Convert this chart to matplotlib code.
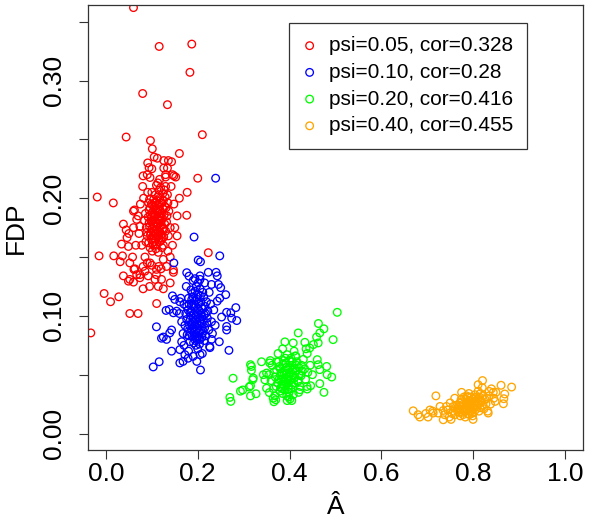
import numpy as np
import matplotlib.pyplot as plt

plt.rcParams['font.family'] = ['Liberation Sans', 'DejaVu Sans']

labels = ['psi=0.05, cor=0.328', 'psi=0.10, cor=0.28',
          'psi=0.20, cor=0.416', 'psi=0.40, cor=0.455']
colors = ['#FF0000', '#0000FF', '#00FF00', '#FFA500']

# (A_hat, FDP) pairs
red_pts = [
    (0.060, 0.362), (0.116, 0.329), (0.187, 0.331), (0.183, 0.307), (0.080, 0.289),
    (0.134, 0.2795), (0.044, 0.252), (0.210, 0.254), (0.097, 0.249), (0.101, 0.242),
    (0.105, 0.235), (0.112, 0.234), (0.160, 0.238), (0.091, 0.230), (0.126, 0.232),
    (0.136, 0.232), (0.143, 0.231), (0.094, 0.226), (0.126, 0.2256), (0.134, 0.2256),
    (0.081, 0.219), (0.096, 0.2176), (0.130, 0.220), (0.148, 0.219), (0.152, 0.218),
    (0.200, 0.217), (-0.019, 0.201), (0.016, 0.196), (0.177, 0.205), (0.176, 0.1855),
    (0.223, 0.1537), (-0.015, 0.151), (0.017, 0.151), (0.036, 0.151), (0.031, 0.146),
    (0.052, 0.145), (0.147, 0.139), (0.147, 0.137), (0.038, 0.134), (0.052, 0.131),
    (0.049, 0.1295), (0.060, 0.1287), (0.067, 0.135), (0.074, 0.1324), (-0.004, 0.119),
    (0.028, 0.1162), (0.010, 0.112), (0.052, 0.102), (0.070, 0.102), (0.1105, 0.1105),
    (0.081, 0.123), (0.125, 0.123), (0.092, 0.134), (0.107, 0.131), (-0.033, 0.0855),
    (0.038, 0.178), (0.044, 0.173), (0.046, 0.1665), (0.034, 0.161), (0.049, 0.159),
    (0.060, 0.189), (0.067, 0.182), (0.074, 0.176), (0.061, 0.1395), (0.074, 0.135),
    (0.081, 0.142), (0.096, 0.145), (0.110, 0.1395), (0.121, 0.131), (0.114, 0.125),
    (0.080, 0.210), (0.075, 0.195), (0.078, 0.160), (0.072, 0.170), (0.085, 0.150),
    (0.070, 0.185), (0.145, 0.160), (0.150, 0.175), (0.148, 0.195), (0.142, 0.210),
    (0.155, 0.185), (0.140, 0.150), (0.090, 0.145), (0.100, 0.143), (0.125, 0.148),
    (0.115, 0.142), (0.135, 0.155), (0.060, 0.175), (0.065, 0.160), (0.062, 0.190),
    (0.145, 0.220), (0.130, 0.218), (0.090, 0.220), (0.100, 0.225), (0.082, 0.200),
    (0.058, 0.150), (0.085, 0.138), (0.120, 0.140), (0.110, 0.135), (0.132, 0.142),
    (0.155, 0.168), (0.160, 0.200), (0.050, 0.170), (0.140, 0.128), (0.095, 0.125),
    (0.063, 0.140),
    (0.112, 0.182), (0.105, 0.176), (0.118, 0.190), (0.098, 0.171), (0.125, 0.198),
    (0.108, 0.165), (0.115, 0.172), (0.101, 0.188), (0.121, 0.181), (0.094, 0.179),
    (0.110, 0.194), (0.127, 0.186), (0.103, 0.160), (0.117, 0.163), (0.099, 0.195),
    (0.113, 0.201), (0.106, 0.184), (0.123, 0.174), (0.090, 0.168), (0.131, 0.192),
    (0.109, 0.157), (0.116, 0.207), (0.097, 0.186), (0.120, 0.169), (0.104, 0.199),
    (0.128, 0.178), (0.093, 0.162), (0.111, 0.189), (0.119, 0.196), (0.100, 0.174),
    (0.124, 0.204), (0.107, 0.170), (0.114, 0.178), (0.096, 0.192), (0.122, 0.158),
    (0.102, 0.181), (0.133, 0.185), (0.088, 0.175), (0.110, 0.211), (0.118, 0.176),
    (0.105, 0.192), (0.126, 0.167), (0.099, 0.165), (0.113, 0.168), (0.129, 0.201),
    (0.092, 0.184), (0.108, 0.203), (0.121, 0.187), (0.101, 0.155), (0.116, 0.184),
    (0.095, 0.199), (0.124, 0.191), (0.107, 0.180), (0.112, 0.173), (0.130, 0.172),
    (0.098, 0.181), (0.119, 0.209), (0.103, 0.168), (0.135, 0.196), (0.086, 0.187),
    (0.111, 0.161), (0.123, 0.183), (0.104, 0.186), (0.115, 0.195), (0.097, 0.169),
    (0.127, 0.207), (0.109, 0.176), (0.120, 0.164), (0.094, 0.190), (0.117, 0.200),
    (0.106, 0.163), (0.132, 0.180), (0.100, 0.205), (0.114, 0.188), (0.122, 0.196),
    (0.089, 0.171), (0.110, 0.179), (0.125, 0.160), (0.102, 0.194), (0.118, 0.171),
    (0.137, 0.189), (0.096, 0.158), (0.113, 0.213), (0.105, 0.172), (0.121, 0.177),
    (0.093, 0.196), (0.128, 0.193), (0.108, 0.186), (0.116, 0.166), (0.099, 0.184),
    (0.134, 0.203), (0.087, 0.163), (0.119, 0.185), (0.103, 0.178), (0.111, 0.198),
    (0.126, 0.174), (0.095, 0.176), (0.114, 0.154), (0.130, 0.210), (0.106, 0.196),
    (0.140, 0.175), (0.084, 0.181), (0.117, 0.216), (0.101, 0.162), (0.123, 0.166),
    (0.108, 0.191), (0.136, 0.168), (0.091, 0.205), (0.115, 0.181), (0.110, 0.170),
]

blue_pts = [
    (0.239, 0.217), (0.192, 0.167), (0.248, 0.151), (0.201, 0.1474), (0.206, 0.146),
    (0.148, 0.145), (0.176, 0.1367), (0.181, 0.1338), (0.223, 0.137), (0.240, 0.137),
    (0.2425, 0.134), (0.194, 0.1316), (0.205, 0.131), (0.245, 0.1267), (0.250, 0.124),
    (0.230, 0.1267), (0.261, 0.118), (0.248, 0.115), (0.2425, 0.1125), (0.145, 0.117),
    (0.150, 0.114), (0.161, 0.112), (0.283, 0.107), (0.272, 0.1026), (0.285, 0.096),
    (0.274, 0.098), (0.263, 0.103), (0.252, 0.099), (0.131, 0.1046), (0.138, 0.1054),
    (0.147, 0.1026), (0.154, 0.104), (0.110, 0.0907), (0.125, 0.082), (0.121, 0.081),
    (0.132, 0.080), (0.143, 0.088), (0.139, 0.0855), (0.263, 0.091), (0.263, 0.088),
    (0.247, 0.078), (0.2266, 0.073), (0.230, 0.080), (0.268, 0.0707), (0.143, 0.070),
    (0.161, 0.0713), (0.172, 0.067), (0.179, 0.064), (0.190, 0.0656), (0.205, 0.067),
    (0.198, 0.0613), (0.116, 0.061), (0.103, 0.0566), (0.206, 0.054), (0.161, 0.060),
    (0.168, 0.0613),
    (0.165, 0.095), (0.168, 0.085), (0.170, 0.110), (0.228, 0.110), (0.230, 0.095),
    (0.225, 0.120), (0.232, 0.085), (0.160, 0.102), (0.175, 0.125), (0.215, 0.128),
    (0.235, 0.105), (0.165, 0.078), (0.226, 0.074), (0.180, 0.070), (0.210, 0.068),
    (0.190, 0.130), (0.205, 0.134), (0.163, 0.115), (0.238, 0.092), (0.170, 0.075),
    (0.197, 0.097), (0.190, 0.090), (0.204, 0.104), (0.185, 0.100), (0.210, 0.093),
    (0.193, 0.110), (0.200, 0.085), (0.188, 0.083), (0.207, 0.112), (0.182, 0.092),
    (0.214, 0.101), (0.195, 0.079), (0.201, 0.118), (0.179, 0.105), (0.212, 0.087),
    (0.192, 0.102), (0.205, 0.096), (0.187, 0.114), (0.198, 0.089), (0.216, 0.108),
    (0.184, 0.086), (0.202, 0.081), (0.194, 0.121), (0.209, 0.099), (0.176, 0.097),
    (0.220, 0.094), (0.189, 0.095), (0.199, 0.106), (0.206, 0.088), (0.181, 0.110),
    (0.196, 0.075), (0.213, 0.116), (0.186, 0.104), (0.203, 0.092), (0.191, 0.086),
    (0.218, 0.083), (0.178, 0.089), (0.208, 0.107), (0.195, 0.113), (0.200, 0.099),
    (0.183, 0.078), (0.211, 0.120), (0.190, 0.098), (0.205, 0.080), (0.197, 0.125),
    (0.174, 0.102), (0.222, 0.104), (0.193, 0.091), (0.202, 0.110), (0.186, 0.093),
    (0.215, 0.090), (0.199, 0.083), (0.180, 0.115), (0.207, 0.102), (0.192, 0.107),
    (0.204, 0.076), (0.188, 0.119), (0.210, 0.085), (0.177, 0.084), (0.198, 0.093),
    (0.219, 0.112), (0.184, 0.097), (0.201, 0.128), (0.194, 0.082), (0.212, 0.097),
    (0.189, 0.109), (0.206, 0.117), (0.196, 0.101), (0.172, 0.092), (0.224, 0.088),
    (0.191, 0.077), (0.203, 0.087), (0.185, 0.122), (0.214, 0.079), (0.199, 0.114),
    (0.181, 0.083), (0.208, 0.094), (0.193, 0.096), (0.217, 0.102), (0.187, 0.088),
    (0.200, 0.072), (0.205, 0.123), (0.176, 0.108), (0.211, 0.106), (0.195, 0.088),
    (0.183, 0.103), (0.209, 0.082), (0.190, 0.116), (0.221, 0.098), (0.198, 0.080),
]

green_pts = [
    (0.317, 0.057), (0.339, 0.061), (0.357, 0.060), (0.372, 0.061), (0.504, 0.103),
    (0.463, 0.0935), (0.475, 0.089), (0.466, 0.0855), (0.459, 0.082), (0.4625, 0.077),
    (0.495, 0.0798), (0.419, 0.0855), (0.390, 0.0779), (0.408, 0.077), (0.4335, 0.0775),
    (0.452, 0.0756), (0.444, 0.0727), (0.4385, 0.068), (0.436, 0.072), (0.414, 0.0656),
    (0.4605, 0.0628), (0.4625, 0.0585), (0.481, 0.057), (0.492, 0.048), (0.482, 0.050),
    (0.466, 0.0424), (0.475, 0.035), (0.466, 0.0543), (0.315, 0.0585), (0.317, 0.0537),
    (0.321, 0.0472), (0.320, 0.0458), (0.315, 0.0406), (0.312, 0.0395), (0.277, 0.047),
    (0.298, 0.037), (0.293, 0.036), (0.270, 0.0307), (0.272, 0.0273), (0.315, 0.032),
    (0.327, 0.0338), (0.343, 0.050), (0.350, 0.0514), (0.3464, 0.0456), (0.350, 0.0385),
    (0.356, 0.0348), (0.3645, 0.030), (0.370, 0.0287), (0.401, 0.0293), (0.408, 0.033),
    (0.4227, 0.0372), (0.4386, 0.0378), (0.446, 0.0406), (0.366, 0.027), (0.405, 0.028),
    (0.360, 0.045), (0.362, 0.058), (0.355, 0.050), (0.433, 0.055), (0.435, 0.046),
    (0.430, 0.063), (0.365, 0.038), (0.440, 0.052), (0.375, 0.068), (0.410, 0.070),
    (0.420, 0.035), (0.358, 0.062), (0.445, 0.058), (0.385, 0.072), (0.438, 0.040),
    (0.368, 0.032), (0.395, 0.028), (0.450, 0.050),
    (0.395, 0.048), (0.388, 0.045), (0.402, 0.052), (0.380, 0.050), (0.410, 0.047),
    (0.392, 0.056), (0.398, 0.040), (0.384, 0.042), (0.406, 0.058), (0.377, 0.046),
    (0.414, 0.053), (0.390, 0.037), (0.400, 0.062), (0.372, 0.054), (0.418, 0.044),
    (0.393, 0.051), (0.404, 0.046), (0.386, 0.059), (0.397, 0.043), (0.421, 0.056),
    (0.381, 0.039), (0.399, 0.035), (0.391, 0.064), (0.408, 0.050), (0.369, 0.048),
    (0.425, 0.049), (0.387, 0.047), (0.396, 0.055), (0.405, 0.041), (0.378, 0.057),
    (0.394, 0.032), (0.416, 0.061), (0.383, 0.052), (0.401, 0.045), (0.389, 0.041),
    (0.423, 0.040), (0.374, 0.043), (0.411, 0.055), (0.392, 0.060), (0.399, 0.049),
    (0.379, 0.036), (0.413, 0.066), (0.388, 0.050), (0.403, 0.038), (0.395, 0.067),
    (0.366, 0.052), (0.428, 0.053), (0.390, 0.044), (0.407, 0.054), (0.382, 0.046),
    (0.419, 0.045), (0.397, 0.038), (0.376, 0.061), (0.409, 0.043), (0.391, 0.053),
    (0.385, 0.034), (0.415, 0.058), (0.400, 0.056), (0.371, 0.040), (0.420, 0.050),
    (0.387, 0.062), (0.403, 0.064), (0.394, 0.042), (0.412, 0.048), (0.380, 0.055),
    (0.398, 0.031), (0.426, 0.058), (0.384, 0.038), (0.406, 0.061), (0.393, 0.046),
]

orange_pts = [
    (0.884, 0.0395), (0.861, 0.041), (0.8206, 0.045), (0.811, 0.0415), (0.835, 0.0358),
    (0.844, 0.035), (0.869, 0.0336), (0.867, 0.0296), (0.866, 0.0253), (0.719, 0.032),
    (0.6695, 0.0193), (0.680, 0.016), (0.706, 0.020), (0.702, 0.014), (0.684, 0.014),
    (0.728, 0.023), (0.735, 0.0196), (0.713, 0.0174), (0.697, 0.017), (0.712, 0.019),
    (0.724, 0.0174), (0.735, 0.0117), (0.757, 0.023), (0.848, 0.0273), (0.833, 0.0174),
    (0.745, 0.020), (0.750, 0.026), (0.748, 0.014), (0.835, 0.032), (0.838, 0.025),
    (0.840, 0.038), (0.742, 0.023), (0.832, 0.019), (0.760, 0.030), (0.845, 0.030),
    (0.775, 0.035), (0.820, 0.039), (0.752, 0.012), (0.800, 0.012), (0.850, 0.035),
    (0.738, 0.016),
    (0.790, 0.024), (0.782, 0.022), (0.798, 0.026), (0.775, 0.020), (0.806, 0.028),
    (0.786, 0.027), (0.794, 0.019), (0.770, 0.018), (0.812, 0.030), (0.779, 0.025),
    (0.802, 0.022), (0.765, 0.021), (0.818, 0.027), (0.788, 0.017), (0.796, 0.031),
    (0.773, 0.023), (0.808, 0.024), (0.784, 0.029), (0.800, 0.018), (0.760, 0.016),
    (0.822, 0.032), (0.792, 0.028), (0.778, 0.016), (0.815, 0.022), (0.787, 0.020),
    (0.804, 0.033), (0.769, 0.024), (0.826, 0.029), (0.795, 0.023), (0.781, 0.019),
    (0.810, 0.026), (0.757, 0.019), (0.799, 0.015), (0.789, 0.031), (0.776, 0.027),
    (0.816, 0.034), (0.793, 0.021), (0.805, 0.020), (0.772, 0.015), (0.828, 0.025),
    (0.785, 0.024), (0.801, 0.029), (0.767, 0.022), (0.813, 0.019), (0.791, 0.034),
    (0.780, 0.021), (0.807, 0.031), (0.762, 0.024), (0.820, 0.024), (0.797, 0.017),
    (0.774, 0.029), (0.803, 0.026), (0.783, 0.014), (0.830, 0.030), (0.788, 0.026),
    (0.811, 0.036), (0.777, 0.018), (0.795, 0.027), (0.754, 0.017), (0.817, 0.028),
    (0.786, 0.032), (0.799, 0.021), (0.771, 0.026), (0.824, 0.021), (0.792, 0.016),
    (0.809, 0.023), (0.780, 0.031), (0.814, 0.031), (0.766, 0.019), (0.794, 0.025),
]

series = [red_pts, blue_pts, green_pts, orange_pts]

fig = plt.figure(figsize=(6, 5.26), dpi=100)
ax = fig.add_axes([0.146, 0.1445, 0.826, 0.8455])

for pts, col, lab in zip(series, colors, labels):
    xs, ys = zip(*pts)
    ax.scatter(xs, ys, s=30, facecolors='none', edgecolors=col,
               linewidths=0.95, label=lab)

ax.set_xlim(-0.04, 1.04)
ax.set_ylim(-0.014, 0.364)
ax.set_xticks([0.0, 0.2, 0.4, 0.6, 0.8, 1.0])
ax.set_xticklabels(['0.0', '0.2', '0.4', '0.6', '0.8', '1.0'])
yt = [0.0, 0.05, 0.10, 0.15, 0.20, 0.25, 0.30, 0.35]
ax.set_yticks(yt)
ax.set_yticklabels(['0.00', '', '0.10', '', '0.20', '', '0.30', ''],
                   rotation=90, va='center')
ax.tick_params(axis='both', length=6.3, width=0.8, color='#333333', labelsize=19)
ax.tick_params(axis='x', pad=2.5)
ax.tick_params(axis='y', pad=9)
for sp in ax.spines.values():
    sp.set_color('#333333')
    sp.set_linewidth(0.9)

ax.set_xlabel('Â', fontsize=19, labelpad=6)
ax.set_ylabel('FDP', fontsize=19)
ax.yaxis.set_label_coords(-0.12, 0.5)

leg = ax.legend(loc='upper left', bbox_to_anchor=(0.407, 0.961), borderaxespad=0,
                fontsize=15, frameon=True, fancybox=False, framealpha=1,
                edgecolor='#333333', borderpad=0.65, handlelength=0.65,
                handletextpad=0.62, labelspacing=0.37, scatterpoints=1,
                markerscale=1.0)
leg.get_frame().set_linewidth(0.9)

fig.savefig('out.png', dpi=100)
